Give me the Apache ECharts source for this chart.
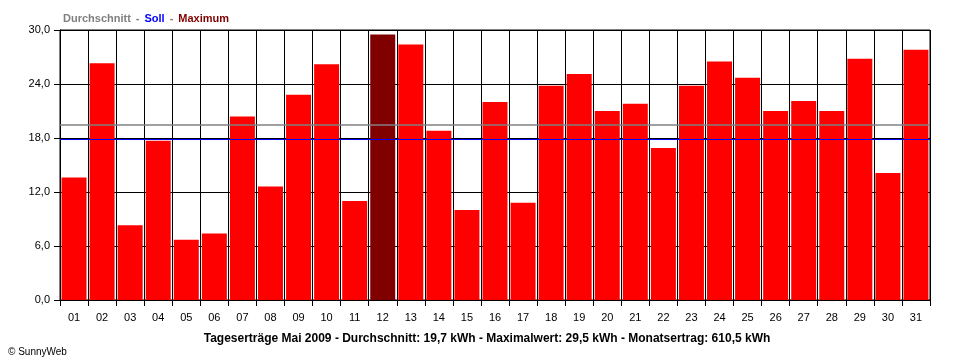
<!DOCTYPE html>
<html><head><meta charset="utf-8">
<script src="https://cdn.jsdelivr.net/npm/echarts@6/dist/echarts.min.js"></script>
<style>html,body{margin:0;padding:0;background:#fff}#c{width:960px;height:360px}</style>
</head><body><div id="c"></div>
<script>
const days = ['01','02','03','04','05','06','07','08','09','10','11','12','13','14','15','16','17','18','19','20','21','22','23','24','25','26','27','28','29','30','31'];
const yields = [13.6,26.3,8.3,17.7,6.7,7.4,20.4,12.6,22.8,26.2,11.0,29.5,28.4,18.8,10.0,22.0,10.8,23.8,25.1,21.0,21.8,16.9,23.8,26.5,24.7,21.0,22.1,21.0,26.8,14.1,27.8];
const average = 19.5;
const target = 17.85;
const yTicks = [0,6,12,18,24,30];

const maxVal = Math.max(...yields);
const F = 'Liberation Sans, Arial, sans-serif';
const chart = echarts.init(document.getElementById('c'), null, {renderer:'canvas'});
chart.setOption({
  animation:false,
  backgroundColor:'#fff',
  title:[
    {text:'{a|Durchschnitt} {d|-} {b|Soll} {d|-} {c|Maximum}', left:58, top:5,
     textStyle:{rich:{
       a:{color:'#808080',fontWeight:'bold',fontSize:11,fontFamily:F},
       b:{color:'#0000ff',fontWeight:'bold',fontSize:11,fontFamily:F},
       c:{color:'#800000',fontWeight:'bold',fontSize:11,fontFamily:F},
       d:{color:'#808080',fontWeight:'bold',fontSize:11,fontFamily:F}}}},
    {text:'Tageserträge Mai 2009 - Durchschnitt: 19,7 kWh - Maximalwert: 29,5 kWh - Monatsertrag: 610,5 kWh',
     left:482, textAlign:'center', top:328,
     textStyle:{color:'#000',fontWeight:'bold',fontSize:12,fontFamily:F}},
    {text:'© SunnyWeb', left:3, top:342, textStyle:{color:'#000',fontWeight:'normal',fontSize:10,fontFamily:F}}
  ],
  grid:{left:60,right:30,top:30,bottom:60,show:true,borderColor:'#000',borderWidth:1},
  xAxis:{type:'category',data:days,boundaryGap:true,
    axisLine:{lineStyle:{color:'#000',width:1}},
    axisTick:{show:true,length:6,lineStyle:{color:'#000'}},
    axisLabel:{color:'#000',fontSize:11,fontFamily:F,margin:12},
    splitLine:{show:true,lineStyle:{color:'#000',width:1}}},
  yAxis:{type:'value',min:0,max:30,interval:6,
    axisLine:{show:true,lineStyle:{color:'#000'}},
    axisTick:{show:true,length:6,lineStyle:{color:'#000'}},
    axisLabel:{color:'#000',fontSize:11,fontFamily:F,margin:10,
      formatter:v=>v.toFixed(1).replace('.',',')},
    splitLine:{show:true,lineStyle:{color:'#000',width:1}}},
  series:[{
    type:'bar', barCategoryGap:'11%',
    data:yields.map(v=>({value:v,itemStyle:{color:v===maxVal?'#800000':'#ff0000'}})),
    markLine:{silent:true,symbol:'none',label:{show:false},
      data:[
        {yAxis:average,lineStyle:{color:'#808080',width:1.5,type:'solid'}},
        {yAxis:target,lineStyle:{color:'#0000ff',width:1,type:'solid'}}
      ]}
  }]
});
</script></body></html>
